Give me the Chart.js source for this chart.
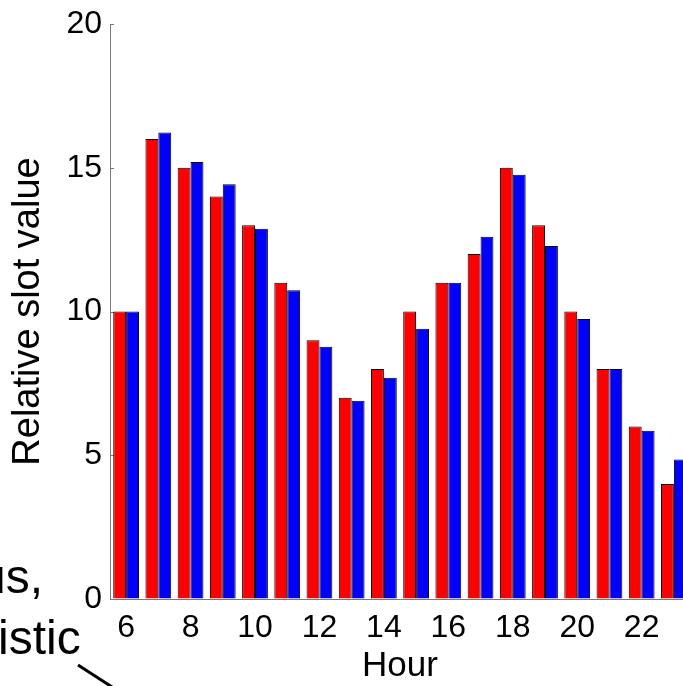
<!DOCTYPE html>
<html><head><meta charset="utf-8">
<script src="https://cdn.jsdelivr.net/npm/chart.js@4/dist/chart.umd.min.js"></script>
<style>
html,body{margin:0;padding:0;overflow:hidden;background:#fff;width:683px;height:686px}
#wrap{position:absolute;left:0;top:0;width:700px;height:686px}
canvas{display:block}
</style>
</head><body><div id="wrap"><canvas id="c" width="700" height="686" style="width:700px;height:686px"></canvas></div>
<script>
const hours = ['6','7','8','9','10','11','12','13','14','15','16','17','18','19','20','21','22','23'];
const redValues = [10, 16, 15, 14, 13, 11, 9, 7, 8, 10, 11, 12, 15, 13, 10, 8, 6, 4];
const blueValues = [10, 16.23, 15.2, 14.43, 12.88, 10.74, 8.77, 6.9, 7.7, 9.4, 11, 12.6, 14.76, 12.28, 9.74, 8, 5.85, 4.85];
const yTicks = [0, 5, 10, 15, 20];
const noteLines = ['us,', 'istic'];

const FONT = '"Liberation Sans", Arial, Helvetica, sans-serif';
const axisColor = '#7a7a7a';

const extras = {
  id: 'extras',
  beforeDatasetsDraw(chart) {
    const ctx = chart.ctx, ys = chart.scales.y, a = chart.chartArea;
    ctx.save();
    ctx.strokeStyle = axisColor; ctx.lineWidth = 1;
    yTicks.forEach(v => {
      const p = Math.round(ys.getPixelForValue(v)) + 0.5;
      ctx.beginPath(); ctx.moveTo(a.left, p); ctx.lineTo(a.left + 4, p); ctx.stroke();
    });
    ctx.restore();
  },
  afterDraw(chart) {
    const ctx = chart.ctx;
    ctx.save();
    ctx.fillStyle = '#000';
    ctx.font = '48px ' + FONT;
    ctx.textBaseline = 'alphabetic';
    ctx.textAlign = 'right';
    ctx.fillText(noteLines[0], 43, 593);
    ctx.textAlign = 'left';
    ctx.fillText(noteLines[1], -2, 654);
    ctx.strokeStyle = '#000'; ctx.lineWidth = 3;
    ctx.beginPath(); ctx.moveTo(78, 665); ctx.lineTo(78 + 48, 665 + 31); ctx.stroke();
    ctx.restore();
  }
};

new Chart(document.getElementById('c'), {
  type: 'bar',
  data: {
    labels: hours,
    datasets: [
      { data: redValues, backgroundColor: '#ff0000', borderColor: '#000', borderWidth: 1, barPercentage: 1.0, categoryPercentage: 0.8 },
      { data: blueValues, backgroundColor: '#0000ff', borderColor: '#000', borderWidth: 1, barPercentage: 1.0, categoryPercentage: 0.8 }
    ]
  },
  options: {
    responsive: false,
    animation: false,
    layout: { padding: { top: 22, right: 10, left: 0, bottom: 0 } },
    plugins: { legend: { display: false }, tooltip: { enabled: false } },
    scales: {
      x: {
        grid: { display: true, drawOnChartArea: false, drawTicks: false },
        border: { display: true, color: axisColor, width: 1 },
        ticks: {
          autoSkip: false, maxRotation: 0, minRotation: 0, padding: 13, color: '#000',
          font: { family: FONT, size: 32, lineHeight: 1 },
          callback: function(v, i) { const h = Number(hours[i]); return h % 2 === 0 ? hours[i] : ''; }
        },
        title: { display: true, text: 'Hour', color: '#000', font: { family: FONT, size: 35, lineHeight: 1 }, padding: { top: 0, bottom: 2 } },
        afterFit(scale) { scale.height = 87; }
      },
      y: {
        min: 0, max: 20,
        grid: { display: true, drawOnChartArea: false, drawTicks: false },
        border: { display: true, color: axisColor, width: 1 },
        ticks: { stepSize: 5, padding: 8, color: '#000', font: { family: FONT, size: 32, lineHeight: 1 } },
        title: { display: true, text: 'Relative slot value', color: '#000', font: { family: FONT, size: 38, lineHeight: 1 }, padding: { top: 10, bottom: 0 } },
        afterFit(scale) { scale.width = 110; }
      }
    }
  },
  plugins: [extras]
});
</script>
</body></html>
